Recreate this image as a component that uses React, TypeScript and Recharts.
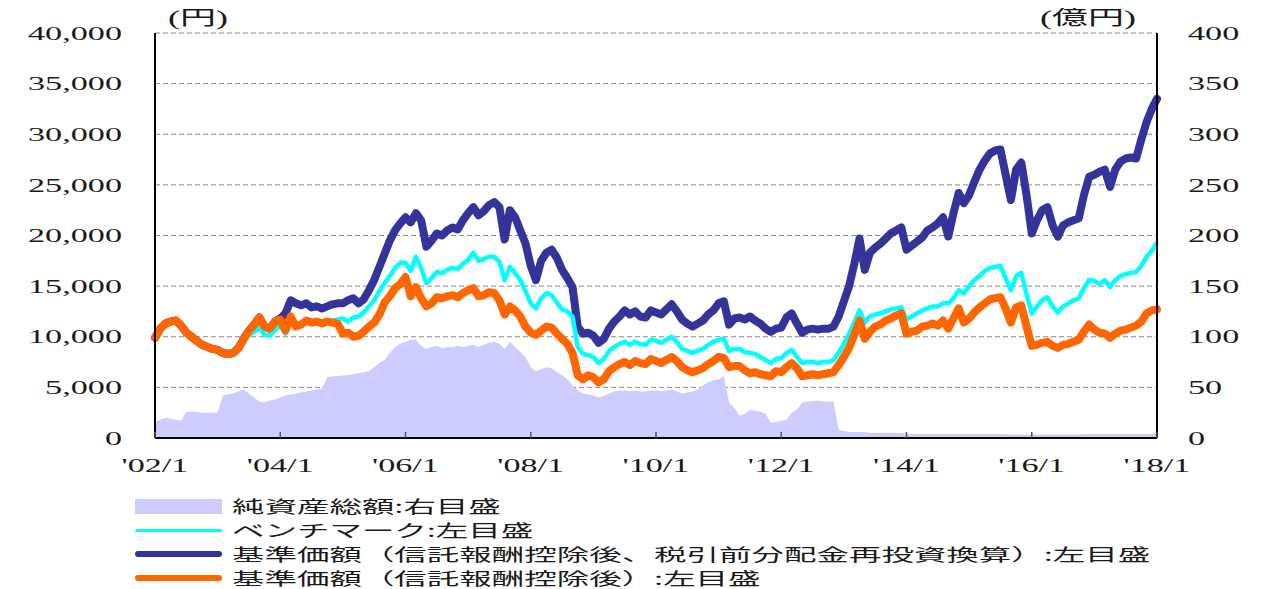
import React from 'react'
import { ComposedChart, Area, Line, XAxis, YAxis, CartesianGrid } from 'recharts'

// monthly, 2002/1 .. 2018/1 (index 0 = 2002/1)
const tickLabels = ["'02/1", "'04/1", "'06/1", "'08/1", "'10/1", "'12/1", "'14/1", "'16/1", "'18/1"]
const xTicks = [0, 24, 48, 72, 96, 120, 144, 168, 192]
const leftTicks = [0, 5000, 10000, 15000, 20000, 25000, 30000, 35000, 40000]
const rightTicks = [0, 50, 100, 150, 200, 250, 300, 350, 400]

// 純資産総額 (億円, right axis)
const netAssets = [
  16, 18, 20, 19, 18, 17, 26, 26, 26, 25, 25, 25,
  25, 42, 43, 44, 46, 48, 44, 40, 36, 35, 37, 38,
  40, 42, 43, 44, 45, 46, 47, 48, 49, 60, 61, 61,
  62, 62, 63, 64, 65, 66, 70, 74, 77, 84, 90, 93,
  95, 97, 97, 91, 88, 90, 91, 89, 90, 90, 91, 90,
  91, 92, 90, 92, 94, 95, 93, 88, 95, 90, 85, 80,
  70, 66, 68, 70, 69, 65, 62, 58, 52, 47, 44, 43,
  42, 40, 42, 44, 46, 47, 47, 46, 47, 46, 46, 47,
  47, 46, 47, 48, 46, 44, 45, 46, 48, 52, 55, 57,
  58, 61, 35, 30, 22, 24, 28, 27, 26, 24, 15, 16,
  17, 18, 25, 28, 35, 36, 36, 37, 36, 36, 36, 8,
  7, 6, 6, 6, 6, 5, 5, 5, 5, 5, 5, 5,
  4, 4, 4, 4, 4, 4, 4, 4, 4, 4, 4, 4,
  4, 4, 4, 4, 4, 4, 4, 4, 3.5, 3.5, 3.5, 3.5,
  3.5, 3.5, 3.5, 3.5, 3.5, 3.5, 3.5, 3.5, 3.5, 3.5, 4, 4,
  4, 4, 4, 4, 4, 4, 4, 4, 4, 4, 4, 4,
  4,
]

// ベンチマーク (円)
const benchmark = [
  9900, 10700, 11200, 11400, 11500, 11000, 10300, 9900, 9500, 9100, 8900, 8700,
  8600, 8300, 8200, 8300, 8700, 9500, 10200, 10500, 10900, 10200, 10100, 10700,
  11100, 10300, 11500, 10900, 11100, 11500, 11300, 11400, 11300, 11500, 11600, 11700,
  11800, 11500, 11900, 12000, 12400, 13000, 13600, 14500, 15300, 16000, 16800, 17300,
  17300, 16500, 17900, 16800, 15300, 15800, 16400, 16300, 16600, 16800, 16700, 17200,
  17600, 18300, 17500, 17700, 17900, 17900, 17400, 15600, 16900, 16300, 15600, 14500,
  13300, 12800, 13800, 14300, 14100, 13400, 12700, 12500, 12000, 9000, 8300, 8200,
  8000, 7400, 7800, 8600, 9000, 9300, 9500, 9200, 9500, 9300, 9200, 9700,
  9600, 9400, 9700, 10000, 9500, 8800, 8600, 8400, 8600, 8800, 9200, 9500,
  9700, 9800, 8600, 8800, 8800, 8500, 8400, 8300, 8000, 7700, 7400, 7800,
  7900, 8400, 8700, 8000, 7400, 7500, 7500, 7400, 7500, 7500, 7700, 8400,
  9300, 10300, 11400, 12600, 11400, 12000, 12200, 12300, 12500, 12700, 12800, 12900,
  11700, 12000, 12300, 12600, 12800, 13000, 13000, 13300, 13300, 13800, 14600, 14300,
  15000, 15600, 16000, 16500, 16800, 16900, 17000, 15800, 14600, 16000, 16300, 14200,
  12300, 13000, 13600, 13900, 13000, 12400, 13000, 13300, 13600, 13800, 14800, 15600,
  15500, 15200, 15600, 14900, 15600, 16000, 16200, 16300, 16400, 17000, 17900, 18500,
  19300,
]

// 基準価額 (信託報酬控除後、税引前分配金再投資換算) (円)
const navReinvested = [
  9900, 10800, 11300, 11500, 11600, 11100, 10400, 10000, 9600, 9200, 9000, 8800,
  8700, 8400, 8300, 8400, 8900, 9800, 10600, 11200, 11900, 11000, 10800, 11500,
  11800, 12300, 13600, 13300, 13100, 13300, 12900, 13000, 12800, 13000, 13200, 13300,
  13300, 13600, 13800, 13300, 13700, 14600, 15600, 16900, 18200, 19500, 20500, 21200,
  21800, 21300, 22200, 21500, 18900, 19500, 20200, 20000, 20500, 20800, 20600, 21500,
  22200, 22800, 22000, 22400, 23000, 23300, 22800, 19600, 22500, 21800, 20500, 19200,
  17000, 15600, 17500, 18300, 18600, 17800, 16600, 15800, 14900, 11000, 10300, 10400,
  10100, 9400, 9800, 10800, 11500, 12000, 12600, 12200, 12500, 12000, 11900, 12600,
  12400, 12200, 12700, 13200, 12500, 11700, 11300, 11000, 11300, 11600, 12200, 12600,
  13300, 13500, 11200, 11800, 11900, 11700, 12000, 11600, 11300, 10800, 10500, 10800,
  10900, 11900, 12300, 11300, 10400, 10700, 10800, 10700, 10800, 10800, 11000, 12000,
  13500, 15000, 17200, 19700, 16600, 18300, 18800, 19200, 19700, 20200, 20500, 20800,
  18600, 19000, 19400, 19800, 20500, 20800, 21200, 21800, 19900, 22200, 24200, 23200,
  24000, 25300, 26500, 27400, 28100, 28400, 28500, 26000, 23500, 26500, 27200, 24000,
  20200, 21500, 22500, 22800, 21000, 19900, 21000, 21300, 21500, 21700, 24000, 25800,
  26000, 26300, 26500, 24800, 26500, 27300, 27600, 27700, 27600, 29500, 31200, 32500,
  33500,
]

// 基準価額 (信託報酬控除後) (円)
const navAfterFee = [
  9900, 10800, 11300, 11500, 11600, 11100, 10400, 10000, 9600, 9200, 9000, 8800,
  8700, 8400, 8300, 8400, 8900, 9800, 10600, 11200, 11900, 11000, 10800, 11500,
  11700, 10600, 12000, 11000, 11200, 11600, 11400, 11500, 11300, 11500, 11400, 11300,
  10300, 10400, 10000, 10100, 10500, 11000, 11400, 12200, 13400, 14000, 14800, 15200,
  15900, 14000, 14900, 13800, 13000, 13300, 13900, 13800, 14000, 14100, 13900, 14300,
  14600, 14800, 14000, 14100, 14400, 14300, 13600, 12200, 13000, 12600, 12000, 11000,
  10400, 10200, 10600, 11000, 10900, 10300, 9800, 9300, 8400, 6200, 5800, 6200,
  6000, 5500, 5800, 6600, 7000, 7300, 7500, 7200, 7600, 7400, 7300, 7800,
  7600, 7400, 7700, 8000, 7600, 7000, 6700, 6500, 6700, 6900, 7300, 7600,
  8000, 7900, 7000, 7100, 7100, 6700, 6400, 6500, 6300, 6200, 6100, 6600,
  6500, 7000, 7400, 6900, 6100, 6200, 6300, 6200, 6300, 6400, 6500, 7200,
  8000, 8900, 10200, 11600, 9800, 10500, 11000, 11200, 11600, 11800, 12100, 12300,
  10300, 10500, 10600, 11000, 11100, 11300, 11100, 11600, 10800, 11800, 12800, 11400,
  11800, 12400, 12900, 13300, 13700, 13800, 13900, 12800, 11400, 12900, 13100, 11000,
  9100, 9200, 9400, 9500, 9100, 8900, 9200, 9300, 9500, 9700, 10500, 11200,
  10700, 10400, 10300, 9900, 10300, 10600, 10700, 10900, 11100, 11500, 12300, 12600,
  12700,
]

const data = netAssets.map((v, i) => ({
  m: i,
  assets: v,
  bench: benchmark[i],
  reinv: navReinvested[i],
  after: navAfterFee[i],
}))

const SX = 1.8
const serif = "'Liberation Serif', 'Times New Roman', serif"
const cjk = "'Noto Sans CJK JP', 'Noto Sans CJK SC', sans-serif"

function LeftTick(props: any) {
  const { x, y, payload } = props
  return (
    <text transform={`translate(${x - 33},${y}) scale(${SX},1)`} textAnchor="end" dy="0.35em"
      fontFamily={serif} fontSize={19} fill="#1a1a1a">
      {Number(payload.value).toLocaleString('en-US')}
    </text>
  )
}

function RightTick(props: any) {
  const { x, y, payload } = props
  return (
    <text transform={`translate(${x + 31},${y}) scale(${SX},1)`} textAnchor="start" dy="0.35em"
      fontFamily={serif} fontSize={19} fill="#1a1a1a">
      {payload.value}
    </text>
  )
}

function BottomTick(props: any) {
  const { x, y, payload } = props
  const label = tickLabels[Math.round(payload.value / 24)]
  return (
    <g>
      <line x1={x} x2={x} y1={y} y2={y - 6} stroke="#555" strokeWidth={1.5} />
      <text transform={`translate(${x},${y + 27}) scale(${SX},1)`} textAnchor="middle" dy="0.35em"
        fontFamily={serif} fontSize={19} fill="#1a1a1a">
        {label}
      </text>
    </g>
  )
}

function Label({ left, cy, children, family = cjk, size = 17, sx = 1.91 }: any) {
  return (
    <div style={{
      position: 'absolute', left, top: cy - 10, height: 20, lineHeight: '20px',
      fontFamily: family, fontSize: size, color: '#1a1a1a', whiteSpace: 'nowrap',
      transform: `scaleX(${sx})`, transformOrigin: 'left center',
    }}>{children}</div>
  )
}

const legendRows = [
  { label: '純資産総額:右目盛', color: '#CCCCFF', h: 15, cy: 498 },
  { label: 'ベンチマーク:左目盛', color: '#00FFFF', h: 3, cy: 522 },
  { label: '基準価額（信託報酬控除後、税引前分配金再投資換算）:左目盛', color: '#333399', h: 6, cy: 546 },
  { label: '基準価額（信託報酬控除後）:左目盛', color: '#FF6600', h: 6, cy: 570 },
]

export default function App() {
  return (
    <div style={{ position: 'relative', width: 1245, height: 581 }}>
      <ComposedChart width={1245} height={470} data={data} margin={{ top: 25, right: 0, bottom: 10, left: 0 }}>
        <CartesianGrid yAxisId="left" vertical={false} stroke="#8a8a8a" strokeDasharray="5 3" />
        <XAxis dataKey="m" type="number" domain={[0, 192]} ticks={xTicks} interval={0} height={30}
          tickSize={0} tickMargin={0} tickLine={false} tick={BottomTick}
          axisLine={{ stroke: '#000', strokeWidth: 2 }} />
        <YAxis yAxisId="left" domain={[0, 40000]} ticks={leftTicks} width={147} interval={0}
          tickSize={0} tickMargin={0} tickLine={false} tick={LeftTick}
          axisLine={{ stroke: '#000', strokeWidth: 2 }} />
        <YAxis yAxisId="right" orientation="right" domain={[0, 400]} ticks={rightTicks} width={96} interval={0}
          tickSize={0} tickMargin={0} tickLine={false} tick={RightTick}
          axisLine={{ stroke: '#000', strokeWidth: 2 }} />
        <Area yAxisId="right" dataKey="assets" type="linear" stroke="none" fill="#CCCCFF" fillOpacity={1}
          isAnimationActive={false} />
        <Line yAxisId="left" dataKey="reinv" type="linear" stroke="#333399" strokeWidth={8} dot={false}
          strokeLinejoin="round" strokeLinecap="round" isAnimationActive={false} />
        <Line yAxisId="left" dataKey="bench" type="linear" stroke="#00FFFF" strokeWidth={4.5} dot={false}
          strokeLinejoin="round" isAnimationActive={false} />
        <Line yAxisId="left" dataKey="after" type="linear" stroke="#FF6600" strokeWidth={8} dot={false}
          strokeLinejoin="round" strokeLinecap="round" isAnimationActive={false} />
      </ComposedChart>

      <Label left={160} cy={10} family={`${serif}, ${cjk}`} size={20} sx={1.8}>(円)</Label>
      <Label left={1032} cy={10} family={`${serif}, ${cjk}`} size={20} sx={1.8}>(億円)</Label>

      {legendRows.map((r) => (
        <React.Fragment key={r.label}>
          <div style={{
            position: 'absolute', left: 127, top: r.cy - r.h / 2, width: 87, height: r.h,
            background: r.color, borderRadius: r.h === 15 ? 0 : r.h / 2,
          }} />
          <Label left={224} cy={r.cy}>{r.label}</Label>
        </React.Fragment>
      ))}
    </div>
  )
}
